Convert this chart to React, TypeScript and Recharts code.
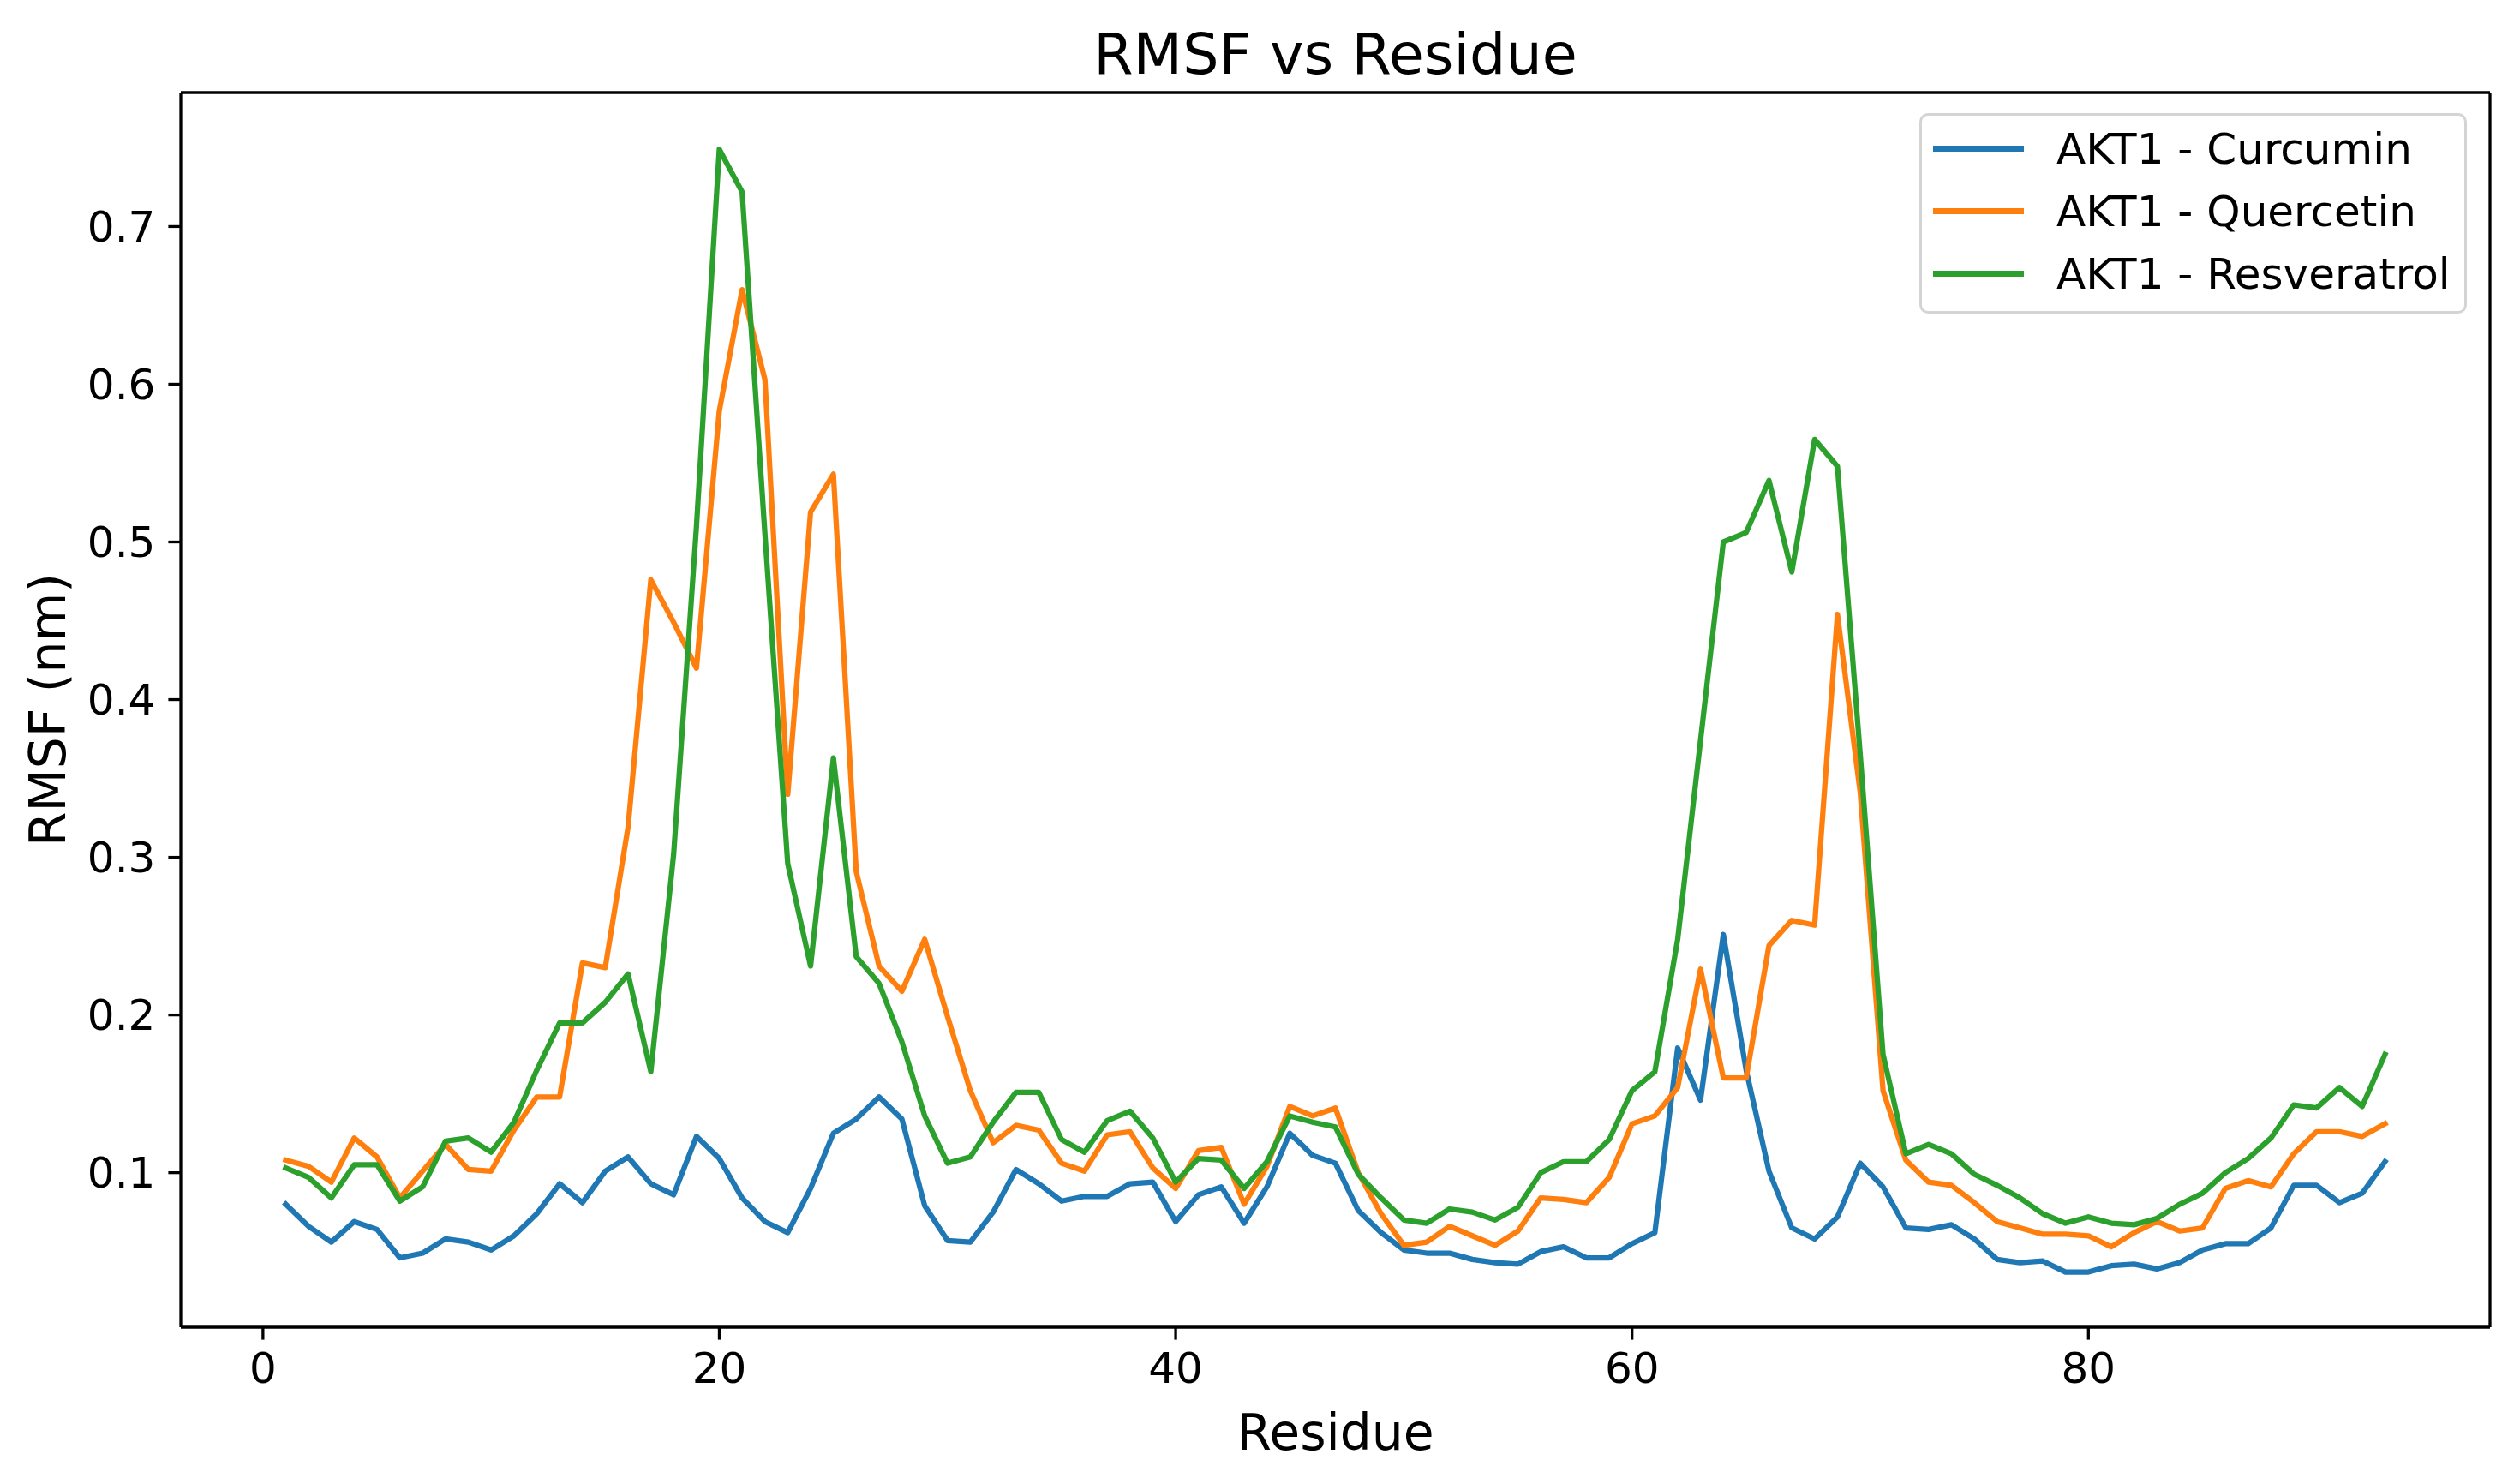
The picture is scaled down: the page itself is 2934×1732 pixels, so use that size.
import { LineChart, Line, XAxis, YAxis, Legend, ReferenceLine, Label } from "recharts";

// residue numbers on the x axis
const residues = [
  1, 2, 3, 4, 5, 6, 7, 8, 9, 10, 11, 12, 13, 14, 15, 16, 17, 18, 19, 20,
  21, 22, 23, 24, 25, 26, 27, 28, 29, 30, 31, 32, 33, 34, 35, 36, 37, 38, 39, 40,
  41, 42, 43, 44, 45, 46, 47, 48, 49, 50, 51, 52, 53, 54, 55, 56, 57, 58, 59, 60,
  61, 62, 63, 64, 65, 66, 67, 68, 69, 70, 71, 72, 73, 74, 75, 76, 77, 78, 79, 80,
  81, 82, 83, 84, 85, 86, 87, 88, 89, 90, 91, 92, 93,
];

const curcumin = [
  0.080, 0.066, 0.056, 0.069, 0.064, 0.046, 0.049, 0.058, 0.056, 0.051,
  0.060, 0.074, 0.093, 0.081, 0.101, 0.110, 0.093, 0.086, 0.123, 0.109,
  0.084, 0.069, 0.062, 0.090, 0.125, 0.134, 0.148, 0.134, 0.079, 0.057,
  0.056, 0.075, 0.102, 0.093, 0.082, 0.085, 0.085, 0.093, 0.094, 0.069,
  0.086, 0.091, 0.068, 0.091, 0.125, 0.111, 0.106, 0.076, 0.062, 0.051,
  0.049, 0.049, 0.045, 0.043, 0.042, 0.050, 0.053, 0.046, 0.046, 0.055,
  0.062, 0.179, 0.146, 0.251, 0.165, 0.101, 0.065, 0.058, 0.072, 0.106,
  0.091, 0.065, 0.064, 0.067, 0.058, 0.045, 0.043, 0.044, 0.037, 0.037,
  0.041, 0.042, 0.039, 0.043, 0.051, 0.055, 0.055, 0.065, 0.092, 0.092,
  0.081, 0.087, 0.107,
];

const quercetin = [
  0.108, 0.104, 0.094, 0.122, 0.110, 0.084, 0.101, 0.118, 0.102, 0.101,
  0.127, 0.148, 0.148, 0.233, 0.230, 0.319, 0.476, 0.449, 0.420, 0.583,
  0.660, 0.603, 0.340, 0.519, 0.543, 0.291, 0.231, 0.215, 0.248, 0.199,
  0.152, 0.119, 0.130, 0.127, 0.106, 0.101, 0.124, 0.126, 0.103, 0.090,
  0.114, 0.116, 0.080, 0.104, 0.142, 0.136, 0.141, 0.100, 0.074, 0.054,
  0.056, 0.066, 0.060, 0.054, 0.063, 0.084, 0.083, 0.081, 0.097, 0.131,
  0.136, 0.154, 0.229, 0.160, 0.160, 0.244, 0.260, 0.257, 0.454, 0.341,
  0.152, 0.108, 0.094, 0.092, 0.081, 0.069, 0.065, 0.061, 0.061, 0.060,
  0.053, 0.062, 0.069, 0.063, 0.065, 0.090, 0.095, 0.091, 0.112, 0.126,
  0.126, 0.123, 0.131,
];

const resveratrol = [
  0.103, 0.097, 0.084, 0.105, 0.105, 0.082, 0.091, 0.120, 0.122, 0.113,
  0.132, 0.165, 0.195, 0.195, 0.208, 0.226, 0.164, 0.302, 0.510, 0.749,
  0.722, 0.505, 0.296, 0.231, 0.363, 0.237, 0.220, 0.183, 0.136, 0.106,
  0.110, 0.132, 0.151, 0.151, 0.121, 0.113, 0.133, 0.139, 0.122, 0.094,
  0.109, 0.108, 0.090, 0.107, 0.136, 0.132, 0.129, 0.099, 0.084, 0.070,
  0.068, 0.077, 0.075, 0.070, 0.078, 0.100, 0.107, 0.107, 0.121, 0.152,
  0.164, 0.248, 0.374, 0.500, 0.506, 0.539, 0.481, 0.565, 0.548, 0.365,
  0.175, 0.112, 0.118, 0.112, 0.099, 0.092, 0.084, 0.074, 0.068, 0.072,
  0.068, 0.067, 0.071, 0.080, 0.087, 0.100, 0.109, 0.122, 0.143, 0.141,
  0.154, 0.142, 0.175,
];

const xTicks = [0, 20, 40, 60, 80];
const yTicks = [0.1, 0.2, 0.3, 0.4, 0.5, 0.6, 0.7];

const series = [
  { key: "curcumin", name: "AKT1 - Curcumin", color: "#1f77b4" },
  { key: "quercetin", name: "AKT1 - Quercetin", color: "#ff7f0e" },
  { key: "resveratrol", name: "AKT1 - Resveratrol", color: "#2ca02c" },
];

const data = residues.map((r, i) => ({
  residue: r,
  curcumin: curcumin[i],
  quercetin: quercetin[i],
  resveratrol: resveratrol[i],
}));

const FONT = "'DejaVu Sans', sans-serif";
const X_DOMAIN: [number, number] = [-3.6, 97.6];
const Y_DOMAIN: [number, number] = [0.002, 0.785];
const SPINE = 3.3;
const LW = 6.25;

function LegendBox({ payload }: any) {
  return (
    <div
      style={{
        boxSizing: "border-box",
        width: "100%",
        height: "100%",
        border: `${SPINE}px solid #d4d4d4`,
        borderRadius: 10,
        background: "rgba(255,255,255,0.8)",
        paddingTop: 2,
        fontFamily: FONT,
        fontSize: 50,
      }}
    >
      {(payload || []).map((p: any) => (
        <div
          key={p.value}
          style={{ display: "flex", alignItems: "center", height: 73 }}
        >
          <div
            style={{
              marginLeft: 13,
              width: 106,
              height: LW,
              background: p.color,
            }}
          />
          <span style={{ marginLeft: 38, color: "#000", lineHeight: 1 }}>
            {p.value}
          </span>
        </div>
      ))}
    </div>
  );
}

export default function App() {
  const tickStyle = { fill: "#000", fontSize: 50, fontFamily: FONT };
  const lineStyle = { stroke: "#000", strokeWidth: SPINE };

  return (
    <div
      style={{
        position: "absolute",
        left: 0,
        top: 0,
        width: 2934,
        height: 1732,
        background: "#fff",
      }}
    >
      <div
        style={{
          position: "absolute",
          left: 211,
          width: 2695,
          top: 30,
          textAlign: "center",
          fontFamily: FONT,
          fontSize: 66.7,
          lineHeight: 1,
          color: "#000",
        }}
      >
        RMSF vs Residue
      </div>
      <LineChart
        width={2934}
        height={1732}
        data={data}
        margin={{ top: 108, right: 28, bottom: 0, left: 0 }}
      >
        <XAxis
          dataKey="residue"
          type="number"
          domain={X_DOMAIN}
          allowDataOverflow
          ticks={xTicks}
          height={183}
          tick={tickStyle}
          tickSize={14.6}
          tickMargin={15}
          axisLine={lineStyle}
          tickLine={lineStyle}
        >
          <Label
            content={(props: any) => {
              const vb = props.viewBox || {};
              return (
                <text
                  x={vb.x + vb.width / 2}
                  y={1692}
                  textAnchor="middle"
                  fontSize={58.3}
                  fontFamily={FONT}
                  fill="#000"
                >
                  Residue
                </text>
              );
            }}
          />
        </XAxis>
        <YAxis
          type="number"
          domain={Y_DOMAIN}
          allowDataOverflow
          ticks={yTicks}
          width={211}
          tick={tickStyle}
          tickSize={14.6}
          tickMargin={15}
          tickFormatter={(v: number) => v.toFixed(1)}
          axisLine={lineStyle}
          tickLine={lineStyle}
        >
          <Label
            content={(props: any) => {
              const vb = props.viewBox || {};
              const cy = vb.y + vb.height / 2;
              return (
                <text
                  x={56}
                  y={cy}
                  transform={`rotate(-90 56 ${cy})`}
                  textAnchor="middle"
                  dominantBaseline="central"
                  fontSize={58.3}
                  fontFamily={FONT}
                  fill="#000"
                >
                  RMSF (nm)
                </text>
              );
            }}
          />
        </YAxis>
        <ReferenceLine y={Y_DOMAIN[1]} stroke="#000" strokeWidth={SPINE} ifOverflow="visible" />
        <ReferenceLine x={X_DOMAIN[1]} stroke="#000" strokeWidth={SPINE} ifOverflow="visible" />
        {series.map((s) => (
          <Line
            key={s.key}
            type="linear"
            dataKey={s.key}
            name={s.name}
            stroke={s.color}
            strokeWidth={LW}
            strokeLinejoin="round"
            strokeLinecap="square"
            dot={false}
            activeDot={false}
            isAnimationActive={false}
          />
        ))}
        <Legend
          layout="vertical"
          align="center"
          verticalAlign="middle"
          content={<LegendBox />}
          wrapperStyle={{ position: "absolute", left: 2240, top: 132, width: 639, height: 234 }}
        />
      </LineChart>
    </div>
  );
}
